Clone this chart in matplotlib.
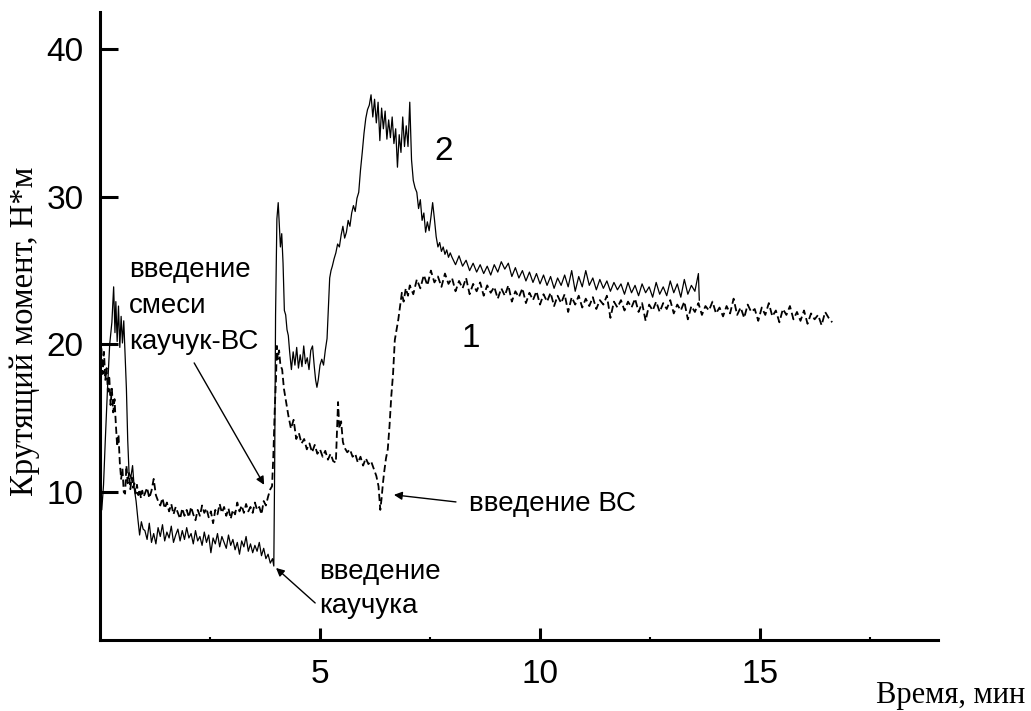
import numpy as np
import matplotlib.pyplot as plt

plt.rcParams['font.family'] = ['Liberation Sans', 'DejaVu Sans']

# кривая 2 (сплошная), участки
t2_start = [0.00, 0.04, 0.08, 0.12, 0.17, 0.22, 0.27, 0.31, 0.34, 0.36,
            0.39, 0.42, 0.45, 0.48, 0.51, 0.54, 0.57, 0.60, 0.63, 0.66,
            0.70, 0.74, 0.78, 0.82, 0.86, 0.90, 0.94, 0.98]
m2_start = [9.6, 8.8, 10.5, 13.5, 17.0, 20.0, 21.5, 23.9, 20.8, 22.9,
            20.2, 22.6, 19.8, 21.9, 20.1, 21.6, 19.2, 17.0, 13.5, 11.3,
            11.0, 11.8, 10.2, 9.4, 8.2, 7.1, 8.0, 7.5]

t2_low = np.round(np.arange(1.02, 3.90, 0.05), 2)   # шаг записи 0.05 мин
m2_low = [7.4, 6.8, 7.9, 6.6, 7.2, 6.5, 7.6, 7.0, 7.8, 6.7,
          7.3, 6.9, 7.7, 6.6, 7.1, 7.5, 6.7, 7.4, 6.8, 7.6,
          6.9, 7.2, 6.5, 7.4, 6.7, 7.0, 6.4, 7.3, 6.6, 7.1,
          5.9, 6.9, 6.5, 7.2, 6.3, 7.0, 6.6, 6.2, 7.1, 6.4,
          6.8, 6.1, 6.6, 5.8, 6.7, 6.3, 7.0, 6.0, 6.5, 5.9,
          6.4, 6.0, 6.6, 5.7, 6.2, 5.5, 5.8, 5.2]

t2_jump = [3.92, 3.95, 3.97, 3.99, 4.02, 4.05, 4.08, 4.10, 4.13, 4.16,
           4.19, 4.22, 4.25, 4.28, 4.31, 4.35, 4.39, 4.43, 4.47, 4.51,
           4.55, 4.59, 4.63, 4.67, 4.71, 4.75, 4.79, 4.83, 4.87, 4.90,
           4.93, 4.96, 5.00, 5.04, 5.08, 5.12, 5.16, 5.19, 5.22, 5.25]
m2_jump = [5.5, 5.0, 12.0, 22.0, 28.5, 29.6, 27.8, 26.6, 27.5, 25.5,
           22.3, 22.0, 21.0, 20.6, 19.5, 18.3, 19.5, 18.6, 19.8, 18.4,
           19.3, 18.5, 19.9, 18.7, 19.1, 18.3, 19.6, 19.9, 18.5, 17.6,
           17.1, 17.6, 18.6, 19.0, 18.6, 19.6, 20.4, 22.5, 24.5, 25.0]

t2_peak = np.round(np.arange(5.28, 7.97, 0.04), 2)
m2_peak = [25.3, 25.8, 26.2, 26.8, 26.6, 27.4, 28.0, 27.2, 27.6, 28.4,
           28.0, 28.9, 29.4, 29.0, 29.9, 30.3, 31.8, 33.0, 34.3, 35.3,
           35.9, 36.2, 36.9, 35.4, 36.6, 35.0, 36.4, 33.8, 36.0, 34.6,
           35.8, 33.9, 35.2, 34.0, 35.4, 33.6, 34.6, 32.0, 34.2, 33.0,
           35.4, 33.4, 34.8, 33.4, 36.4, 32.5, 31.1, 30.6, 30.3, 29.2,
           29.8, 28.4, 28.9, 27.6, 28.3, 27.7, 28.6, 29.6, 28.5, 27.3,
           26.6, 26.9, 26.3, 26.6, 26.1, 26.4, 25.9, 26.2]

t2_tail = np.round(np.arange(8.00, 13.61, 0.08), 2)
m2_tail = [25.9, 25.4, 26.0, 25.3, 25.7, 25.0, 25.5, 24.9, 25.4, 24.8,
           25.3, 24.7, 25.4, 24.9, 25.6, 25.1, 25.5, 24.6, 25.2, 24.5,
           25.0, 24.3, 24.9, 24.2, 24.8, 24.1, 24.7, 24.0, 24.6, 23.8,
           24.5, 24.0, 24.7, 23.9, 25.0, 23.6, 24.6, 23.9, 25.0, 24.0,
           24.5, 23.7, 24.4, 23.8, 24.3, 23.6, 24.2, 23.7, 24.1, 23.4,
           24.2, 23.5, 24.0, 23.3, 24.1, 23.5, 23.9, 23.2, 24.2, 23.4,
           23.9, 23.3, 24.3, 23.5, 24.1, 23.2, 24.4, 23.4, 24.0, 23.6,
           24.8]
t2_end = [13.62]
m2_end = [23.0]

# кривая 1 (пунктир)
t1_start = np.round(np.arange(0.00, 1.00, 0.03), 2)
m1_start = [18.4, 19.8, 18.0, 19.5, 17.6, 18.4, 16.8, 17.9, 15.9, 17.0,
            15.4, 16.3, 14.6, 13.1, 13.9, 12.0, 10.9, 11.6, 10.0, 9.9,
            11.8, 10.6, 11.3, 10.2, 11.0, 10.3, 10.6, 9.9, 10.5, 9.8,
            10.2, 9.6, 10.1, 9.7]

t1_low = np.round(np.arange(1.02, 3.90, 0.05), 2)
m1_low = [9.9, 10.3, 9.6, 10.1, 10.9, 9.8, 9.4, 9.1, 9.6, 8.9,
          9.3, 8.7, 9.2, 8.5, 9.0, 8.6, 8.2, 8.9, 8.4, 8.8,
          8.3, 9.0, 8.5, 8.1, 8.8, 8.4, 9.1, 8.6, 8.9, 8.3,
          8.7, 7.9, 8.8, 8.5, 9.2, 8.6, 9.0, 8.4, 8.9, 8.2,
          8.8, 8.5, 9.3, 8.7, 9.1, 8.6, 9.2, 8.7, 9.0, 8.6,
          9.3, 8.8, 9.0, 8.5, 9.4, 9.1, 9.7, 10.2]

t1_mid = [3.91, 3.94, 3.97, 4.00, 4.02, 4.04, 4.07, 4.10, 4.14, 4.18,
          4.23, 4.28, 4.34, 4.40, 4.46, 4.52, 4.58, 4.64, 4.70, 4.76,
          4.82, 4.88, 4.94, 5.00, 5.06, 5.12, 5.18, 5.24, 5.30, 5.36,
          5.39, 5.41, 5.44, 5.48, 5.52, 5.56, 5.62, 5.68, 5.74, 5.80,
          5.86, 5.92, 5.98, 6.04, 6.10, 6.16, 6.22, 6.28, 6.33, 6.37,
          6.40, 6.43, 6.46, 6.50, 6.54, 6.58, 6.62, 6.66, 6.70, 6.74,
          6.78, 6.82, 6.86, 6.90, 6.95, 7.00]
m1_mid = [10.4, 12.5, 15.5, 17.7, 19.9, 19.0, 19.6, 18.6, 18.3, 17.0,
          16.1, 15.2, 14.3, 14.9, 13.6, 14.0, 13.3, 13.6, 12.9, 13.3,
          12.7, 13.2, 12.6, 12.9, 12.4, 12.8, 12.2, 12.6, 12.1, 12.0,
          14.5, 16.1, 14.3, 14.8, 13.4, 13.0, 12.7, 12.9, 12.4, 12.6,
          12.0, 12.4, 11.8, 12.3, 11.9, 12.1, 11.6, 11.1, 10.4, 8.8,
          9.6, 10.6, 11.4, 12.3, 12.9, 14.5, 16.5, 18.0, 20.3, 21.0,
          21.7, 22.6, 23.5, 22.9, 23.8, 23.3]

t1_tail = np.round(np.arange(7.04, 16.65, 0.08), 2)
m1_tail = [24.0, 23.4, 24.4, 23.8, 24.7, 24.0, 25.0, 24.2, 24.6, 23.9,
           24.8, 24.1, 24.5, 23.6, 24.3, 23.8, 24.5, 23.4, 24.1, 23.6,
           24.2, 23.3, 24.0, 23.5, 23.9, 23.1, 23.8, 23.3, 24.0, 22.9,
           23.6, 23.2, 23.8, 22.8, 23.5, 23.0, 23.6, 22.7, 23.4, 22.9,
           23.5, 22.6, 23.3, 22.8, 23.4, 22.2, 23.2, 22.7, 23.3, 22.5,
           23.1, 22.6, 23.2, 22.4, 23.0, 22.7, 23.3, 21.8, 22.9, 22.5,
           23.0, 22.3, 22.9, 22.5, 23.1, 22.2, 22.8, 21.6, 22.7, 22.3,
           22.9, 22.2, 22.8, 22.4, 23.0, 22.1, 22.7, 22.3, 22.9, 21.7,
           22.6, 22.2, 22.8, 22.0, 22.6, 22.3, 22.9, 22.1, 22.5, 21.9,
           22.6, 22.1, 23.1, 22.0, 22.5, 21.8, 22.7, 22.2, 22.4, 21.6,
           22.5, 22.0, 22.8, 21.9, 22.3, 21.5, 22.4, 22.0, 22.6, 21.7,
           22.2, 21.6, 22.3, 21.4, 22.1, 21.7, 22.0, 21.3, 22.2, 21.8,
           21.5]

t2 = np.concatenate([t2_start, t2_low, t2_jump, t2_peak, t2_tail, t2_end])
m2 = np.concatenate([m2_start, m2_low, m2_jump, m2_peak, m2_tail, m2_end])
t1 = np.concatenate([t1_start, t1_low, t1_mid, t1_tail])
m1 = np.concatenate([m1_start, m1_low, m1_mid, m1_tail])

fig = plt.figure(figsize=(10.31, 7.11), dpi=100)
ax = fig.add_axes([0.097, 0.1, 0.813, 0.883])

ax.plot(t2, m2, color='black', lw=0.9)
ax.plot(t1, m1, color='black', lw=1.3, linestyle=(0, (4, 2)))

ax.set_xlim(0, 19.05)
ax.set_ylim(0, 42.5)
for s in ['top', 'right']:
    ax.spines[s].set_visible(False)
for s in ['left', 'bottom']:
    ax.spines[s].set_linewidth(2.2)

ax.set_xticks([5, 10, 15])
ax.set_xticks([2.5, 7.5, 12.5, 17.5], minor=True)
ax.set_yticks([10, 20, 30, 40])
ax.tick_params(which='major', direction='in', width=2.2, labelsize=24)
ax.tick_params(axis='x', which='major', length=9, pad=14)
ax.tick_params(axis='y', which='major', length=13, pad=12)
ax.tick_params(axis='x', which='minor', direction='in', length=2.5, width=1.5)

# подписи кривых и стрелки
ax.text(7.82, 32.5, '2', fontsize=24, ha='center', va='baseline')
ax.text(8.43, 19.8, '1', fontsize=24, ha='center', va='baseline')

ax.text(0.66, 24.6, 'введение', fontsize=20, va='baseline')
ax.text(0.66, 22.1, 'смеси', fontsize=20, va='baseline')
ax.text(0.66, 19.7, 'каучук-ВС', fontsize=20, va='baseline')
ax.text(8.39, 8.7, 'введение ВС', fontsize=20, va='baseline')
ax.text(4.98, 4.1, 'введение', fontsize=20, va='baseline')
ax.text(4.98, 1.8, 'каучука', fontsize=20, va='baseline')

arrow = dict(arrowstyle='-|>', color='black', lw=1.0, mutation_scale=12,
             shrinkA=0, shrinkB=0)
ax.annotate('', xy=(3.73, 10.5), xytext=(2.14, 18.75), arrowprops=arrow)
ax.annotate('', xy=(6.68, 9.82), xytext=(8.09, 9.34), arrowprops=arrow)
ax.annotate('', xy=(4.0, 4.87), xytext=(4.89, 2.5), arrowprops=arrow)

fig.text(0.024, 1 - 331 / 711, 'Крутящий момент, Н*м', rotation=90,
         ha='center', va='center', fontsize=23.5, family='Liberation Serif')
fig.text(0.922, 0.022, 'Время, мин', ha='center', va='center',
         fontsize=22, family='Liberation Serif')

fig.savefig('out.png', dpi=100)
